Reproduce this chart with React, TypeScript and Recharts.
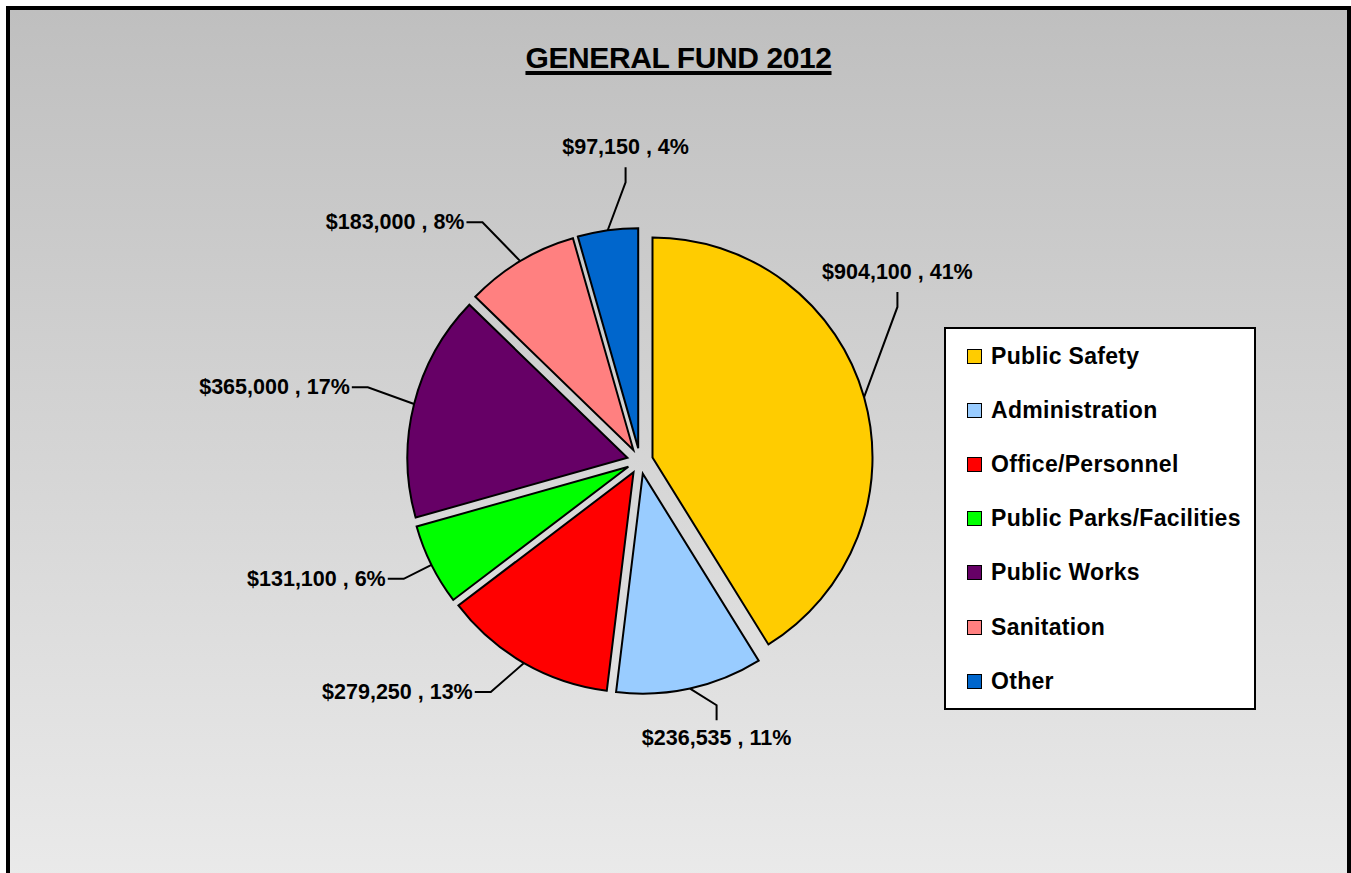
import { PieChart, Pie, Legend, Sector } from "recharts";

const categories = [
  "Public Safety",
  "Administration",
  "Office/Personnel",
  "Public Parks/Facilities",
  "Public Works",
  "Sanitation",
  "Other",
];
const amounts = [904100, 236535, 279250, 131100, 365000, 183000, 97150];

const sliceColors = ["#FFCC00", "#99CCFF", "#FF0000", "#00FF00", "#660066", "#FF8080", "#0066CC"];

const data = categories.map((name, i) => ({ name, value: amounts[i] }));

const FONT = "'Liberation Sans', Arial, Helvetica, sans-serif";
const RAD = Math.PI / 180;
const EXPLODE = 13;
const LABEL_DIST = 275;
// label placement tweaks (angle offset from the slice middle, distance from centre)
const labelNudge: Record<number, { angle: number; dist: number }> = {
  0: { angle: 15, dist: 300 },
  1: { angle: 5, dist: 256 },
  2: { angle: -3, dist: 275 },
  3: { angle: 0, dist: 264 },
  4: { angle: -1, dist: 282 },
  5: { angle: 2.5, dist: 286 },
  6: { angle: -5, dist: 279 },
};

const polar = (cx: number, cy: number, r: number, angle: number) => ({
  x: cx + r * Math.cos(-angle * RAD),
  y: cy + r * Math.sin(-angle * RAD),
});

const renderSlice = (p: any) => {
  const { cx, cy, midAngle, startAngle, endAngle, outerRadius, index, value, percent } = p;
  const o = polar(cx, cy, EXPLODE, midAngle);
  const contact = polar(o.x, o.y, outerRadius, midAngle);
  const nudge = labelNudge[index];
  const angle = midAngle + (nudge ? nudge.angle : 0);
  const elbow = polar(cx, cy, nudge ? nudge.dist : LABEL_DIST, angle);
  const horizontal = Math.cos(angle * RAD) < -0.35;
  const text = `$${value.toLocaleString("en-US")} , ${Math.round(percent * 100)}%`;

  let end;
  let tx;
  let ty;
  let anchor: "end" | "middle";
  if (horizontal) {
    end = { x: elbow.x - 16, y: elbow.y };
    tx = end.x - 2;
    ty = elbow.y + 7;
    anchor = "end";
  } else {
    const above = Math.sin(angle * RAD) > 0;
    end = { x: elbow.x, y: elbow.y + (above ? -15 : 15) };
    tx = elbow.x;
    ty = above ? end.y - 13 : end.y + 25;
    anchor = "middle";
  }

  return (
    <g key={`slice-${index}`}>
      <Sector
        cx={o.x}
        cy={o.y}
        innerRadius={0}
        outerRadius={outerRadius}
        startAngle={startAngle}
        endAngle={endAngle}
        fill={sliceColors[index]}
        stroke="#000"
        strokeWidth={2}
      />
      <polyline
        points={`${contact.x},${contact.y} ${elbow.x},${elbow.y} ${end.x},${end.y}`}
        fill="none"
        stroke="#000"
        strokeWidth={2}
      />
      <text
        x={tx}
        y={ty}
        textAnchor={anchor}
        fontFamily={FONT}
        fontWeight="bold"
        fontSize={21.5}
        fill="#000"
      >
        {text}
      </text>
    </g>
  );
};

// legend keeps the data order, not the library's alphabetical sort
const renderLegend = () => (
  <div
    style={{
      boxSizing: "border-box",
      width: 312,
      height: 383,
      background: "#fff",
      border: "2px solid #000",
      fontFamily: FONT,
    }}
  >
    {categories.map((name, i) => (
      <div
        key={name}
        style={{ height: 54.2, display: "flex", alignItems: "center", paddingLeft: 21 }}
      >
        <span
          style={{
            boxSizing: "border-box",
            width: 15,
            height: 15,
            border: "1.5px solid #000",
            background: sliceColors[i],
            marginRight: 9,
            flexShrink: 0,
          }}
        />
        <span style={{ fontSize: 23, letterSpacing: 0.3, fontWeight: "bold", color: "#000" }}>
          {name}
        </span>
      </div>
    ))}
  </div>
);

export default function App() {
  return (
    <div
      style={{
        position: "fixed",
        left: 6,
        top: 6,
        width: 1345,
        height: 880,
        boxSizing: "border-box",
        border: "4px solid #000",
        background: "linear-gradient(to bottom, #bfbfbf, #eaeaea)",
      }}
    >
      <div
        style={{
          position: "absolute",
          left: 0,
          top: 32.6,
          width: 1337,
          textAlign: "center",
          fontFamily: FONT,
          fontWeight: "bold",
          fontSize: 30,
          lineHeight: "30px",
          letterSpacing: -0.4,
          textDecoration: "underline",
          textDecorationThickness: 4,
          textUnderlineOffset: 3,
          color: "#000",
        }}
      >
        GENERAL FUND 2012
      </div>
      <PieChart width={1337} height={872} margin={{ top: 0, right: 0, bottom: 0, left: 0 }}>
        <Pie
          data={data}
          dataKey="value"
          nameKey="name"
          cx={630}
          cy={451}
          outerRadius={220}
          startAngle={90}
          endAngle={-270}
          fill="transparent"
          stroke="none"
          label={renderSlice}
          labelLine={false}
          isAnimationActive={false}
        />
        <Legend
          content={renderLegend}
          layout="vertical"
          align="right"
          verticalAlign="middle"
          wrapperStyle={{ left: 934, top: 317, width: 312, height: 383 }}
        />
      </PieChart>
    </div>
  );
}
